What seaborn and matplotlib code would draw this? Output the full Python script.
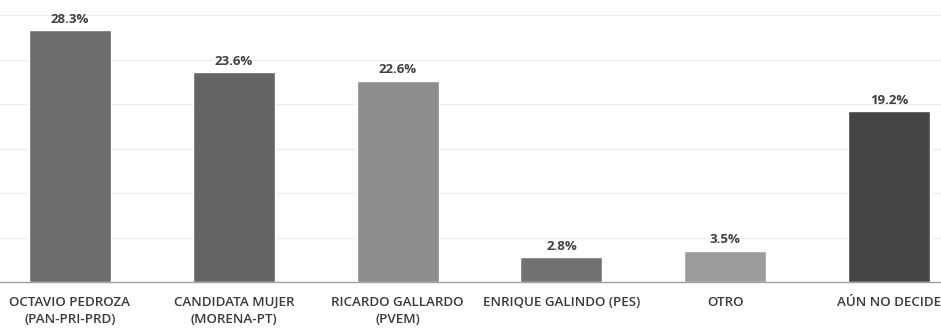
import matplotlib
matplotlib.use("Agg")
import matplotlib.pyplot as plt
import seaborn as sns
import pandas as pd

categories = ["OCTAVIO PEDROZA\n(PAN-PRI-PRD)", "CANDIDATA MUJER\n(MORENA-PT)",
              "RICARDO GALLARDO\n(PVEM)", "ENRIQUE GALINDO (PES)", "OTRO", "AÚN NO DECIDE"]
values = [28.3, 23.6, 22.6, 2.8, 3.5, 19.2]
labels = ["28.3%", "23.6%", "22.6%", "2.8%", "3.5%", "19.2%"]
colors = ["#6c6c6c", "#656565", "#8c8c8c", "#727272", "#9c9c9c", "#454545"]

sns.set_theme(style="white")
plt.rcParams['font.family'] = ['Open Sans', 'DejaVu Sans']

df = pd.DataFrame({"cat": categories, "val": values})

fig = plt.figure(figsize=(9.41, 3.28), dpi=100)
ax = fig.add_axes([0, 0.1402, 1, 0.954 - 0.1402])
sns.barplot(data=df, x="cat", y="val", hue="cat", palette=colors, width=0.5,
            legend=False, ax=ax, saturation=1)

ax.set_ylim(0, 30)
ax.set_xlim(-0.427, 5.317)
ax.set_yticks(range(0, 31, 5))
ax.yaxis.grid(True, color="#ececec", linewidth=0.8)
ax.set_axisbelow(True)
ax.tick_params(axis="y", left=False, labelleft=False)
ax.tick_params(axis="x", length=0, pad=10)
for s in ["top", "right", "left"]:
    ax.spines[s].set_visible(False)
ax.spines["bottom"].set_color("#a0a0a0")
ax.spines["bottom"].set_linewidth(1)
ax.set_xlabel("")
ax.set_ylabel("")
for t in ax.get_xticklabels():
    t.set_fontsize(9.6)
    t.set_color("#3a3a3a")
    t.set_fontweight("semibold")
    t.set_linespacing(1.45)

for i, (v, lab) in enumerate(zip(values, labels)):
    ax.text(i, v + 0.5, lab, ha="center", va="bottom", fontsize=9.5,
            fontweight="bold", color="#404040")

fig.savefig("out.png", dpi=100)
